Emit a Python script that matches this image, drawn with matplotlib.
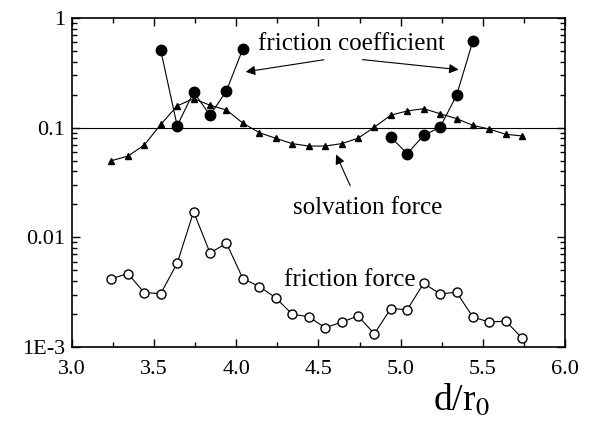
import matplotlib.pyplot as plt
import numpy as np
from matplotlib.ticker import FixedLocator, NullFormatter, MultipleLocator

# solvation force (triangles)
d_solv = [3.24, 3.34, 3.44, 3.54, 3.64, 3.74, 3.84, 3.94, 4.04, 4.14, 4.24, 4.34, 4.44,
          4.54, 4.64, 4.74, 4.84, 4.94, 5.04, 5.14, 5.24, 5.34, 5.44, 5.54, 5.64, 5.74]
solv = [0.050, 0.055, 0.0695, 0.107, 0.158, 0.184, 0.160, 0.145, 0.110, 0.090, 0.080, 0.0715,
        0.068, 0.068, 0.0715, 0.080, 0.101, 0.130, 0.142, 0.149, 0.134, 0.121, 0.105, 0.097,
        0.087, 0.084]

# friction coefficient (filled circles), two branches
d_coef1 = [3.54, 3.64, 3.74, 3.84, 3.94, 4.04]
coef1 = [0.507, 0.104, 0.211, 0.130, 0.217, 0.525]
d_coef2 = [4.94, 5.04, 5.14, 5.24, 5.34, 5.44]
coef2 = [0.082, 0.058, 0.085, 0.101, 0.197, 0.621]

# friction force (open circles)
d_fric = d_solv
fric = [0.0042, 0.00467, 0.00313, 0.00307, 0.0058, 0.0171, 0.0072, 0.00883, 0.0042, 0.00356,
        0.00281, 0.00199, 0.00189, 0.0015, 0.00168, 0.00192, 0.00132, 0.00224, 0.00219,
        0.00381, 0.00305, 0.00316, 0.00187, 0.00169, 0.00172, 0.0012]

ytick_vals = [1e-3, 1e-2, 1e-1, 1]
ytick_labels = ['1E-3', '0.01', '0.1', '1']

plt.rcParams['font.family'] = ['Liberation Serif', 'DejaVu Serif']
plt.rcParams['mathtext.fontset'] = 'stix'

fig = plt.figure(figsize=(5.94, 4.32), dpi=100)
ax = fig.add_axes([72/594, 1-347/432, (565-72)/594, (347-18)/432])

ax.axhline(0.1, color='k', lw=0.8)
ax.plot(d_solv, solv, '-^', color='k', lw=0.8, ms=5)
ax.plot(d_coef1, coef1, '-o', color='k', lw=0.8, ms=7.5)
ax.plot(d_coef2, coef2, '-o', color='k', lw=0.8, ms=7.5)
ax.plot(d_fric, fric, '-o', color='k', mfc='white', lw=0.8, ms=6.5, mew=1.0)

ax.set_yscale('log')
ax.set_xlim(3.0, 6.0)
ax.set_ylim(1e-3, 1)
ax.xaxis.set_major_locator(MultipleLocator(0.5))
ax.xaxis.set_minor_locator(MultipleLocator(0.25))
ax.xaxis.set_major_formatter(plt.FuncFormatter(lambda v, p: '%.1f' % v))
ax.yaxis.set_major_locator(FixedLocator(ytick_vals))
ax.set_yticklabels(ytick_labels)
ax.yaxis.set_minor_formatter(NullFormatter())
ax.tick_params(which='both', direction='in', top=True, right=True, labelsize=16)
ax.tick_params(which='major', length=6, width=1)
ax.tick_params(which='minor', length=3.5, width=1)
ax.tick_params(axis='x', pad=9)
ax.tick_params(axis='y', pad=5)
for s in ax.spines.values():
    s.set_linewidth(1.2)

ax.set_xlabel('d/r$_0$', fontsize=27, x=0.79, labelpad=3)

# annotations
ax.text(4.70, 0.58, 'friction coefficient', fontsize=18, ha='center', va='center')
ax.annotate('', xy=(4.04, 0.32), xytext=(4.55, 0.42),
            arrowprops=dict(arrowstyle='-|>', color='k', lw=0.8, mutation_scale=14))
ax.annotate('', xy=(5.37, 0.336), xytext=(4.75, 0.42),
            arrowprops=dict(arrowstyle='-|>', color='k', lw=0.8, mutation_scale=14))
ax.text(4.80, 0.0185, 'solvation force', fontsize=18, ha='center', va='center')
ax.annotate('', xy=(4.60, 0.06), xytext=(4.70, 0.028),
            arrowprops=dict(arrowstyle='-|>', color='k', lw=0.8, mutation_scale=14))
ax.text(4.69, 0.0041, 'friction force', fontsize=18, ha='center', va='center')

fig.savefig('out.png', dpi=100)
